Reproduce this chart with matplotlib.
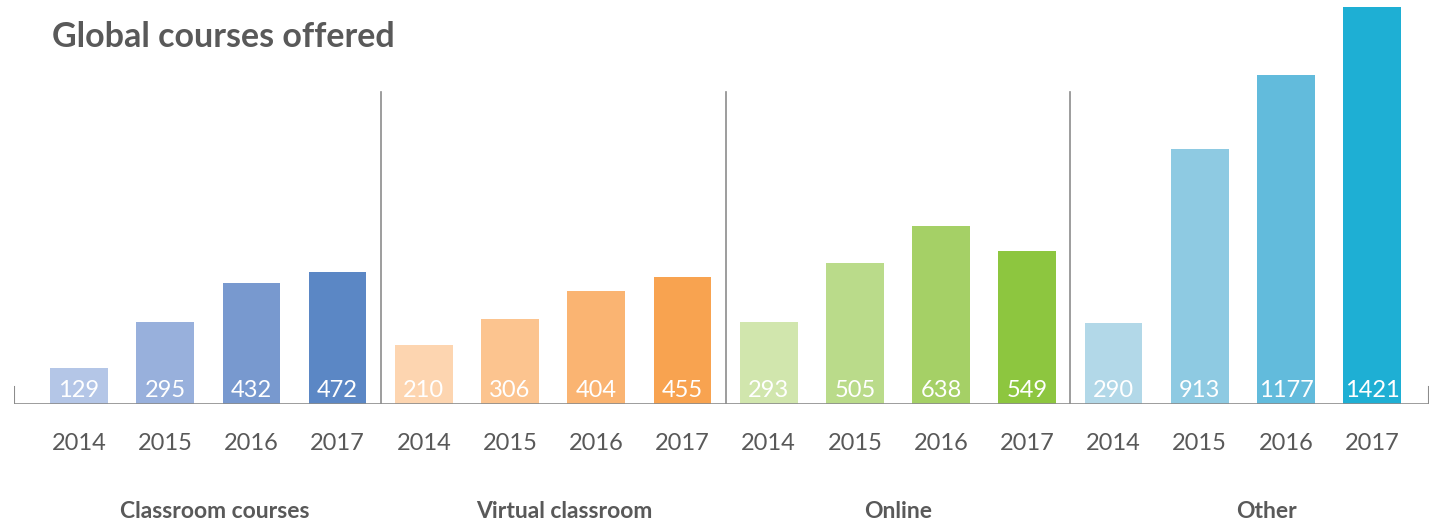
import matplotlib.pyplot as plt

# data
groups = ['Classroom courses', 'Virtual classroom', 'Online', 'Other']
years = ['2014', '2015', '2016', '2017']
classroom = [129, 295, 432, 472]
virtual = [210, 306, 404, 455]
online = [293, 505, 638, 549]
other = [290, 913, 1177, 1421]

colors = [
    ['#b4c6e7', '#98b0dc', '#7899cf', '#5b87c5'],
    ['#fdd5b0', '#fcc48f', '#fab472', '#f8a350'],
    ['#d1e6ad', '#badb8a', '#a5d066', '#8dc63f'],
    ['#b2d8e8', '#8ecae2', '#62bbdc', '#1eafd4'],
]
# horizontal nudges of the group labels (in bar units)
group_shift = [0.08, 0.13, 0.0, 0.28]

plt.rcParams['font.family'] = ['Lato', 'DejaVu Sans']
grey = '#595959'

fig = plt.figure(figsize=(14.33, 5.25), dpi=100)
ax = fig.add_axes([14 / 1433, 121 / 525, 1415 / 1433, 404 / 525])

all_vals = [classroom, virtual, online, other]
x = 0
for g, vals in enumerate(all_vals):
    for j, v in enumerate(vals):
        ax.bar(x, v, width=0.67, color=colors[g][j], zorder=2)
        ax.text(x, 50, str(v), ha='center', va='center', color='white', fontsize=17)
        ax.text(x, -143, years[j], ha='center', va='center', color=grey, fontsize=17)
        x += 1
    ax.text(g * 4 + 1.5 + group_shift[g], -385, groups[g], ha='center', va='center',
            color=grey, fontsize=16.5, fontweight='bold')
    if g > 0:
        ax.axvline(g * 4 - 0.5, ymin=0, ymax=0.772, color='#8c8c8c', lw=1.2, zorder=1)

ax.set_xlim(-0.754, 15.66)
ax.set_ylim(0, 1446)
for s in ['top', 'right', 'left', 'bottom']:
    ax.spines[s].set_visible(False)
ax.axhline(0, color='#8c8c8c', lw=1.2, zorder=3)
ax.axvline(-0.754, ymin=0, ymax=17 / 404, color='#8c8c8c', lw=1.5)
ax.axvline(15.66, ymin=0, ymax=17 / 404, color='#8c8c8c', lw=1.5)
ax.set_xticks([])
ax.set_yticks([])

fig.text(52 / 1433, 1 - 37 / 525, 'Global courses offered', ha='left', va='center',
         color=grey, fontsize=24.5, fontweight='bold')

fig.savefig('out.png', dpi=100, facecolor='white')
